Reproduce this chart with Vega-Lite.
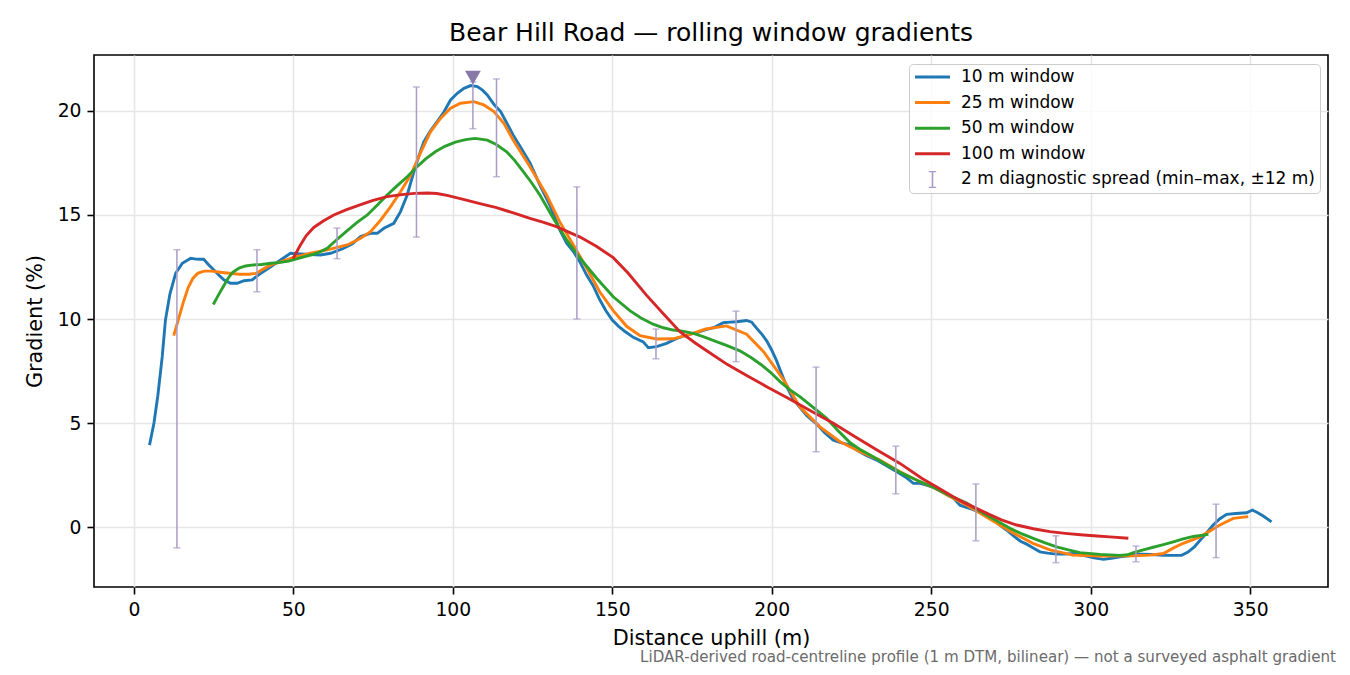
{
"$schema": "https://vega.github.io/schema/vega-lite/v6.json",
"width": 1234,
"height": 532,
"autosize": {"type": "none"},
"padding": {"left": 94, "top": 55, "right": 22, "bottom": 88},
"background": "white",
"config": {
  "font": "DejaVu Sans",
  "view": {"stroke": "#000000", "strokeWidth": 1.6},
  "axis": {
    "domain": false,
    "grid": true, "gridColor": "#e6e6e6", "gridWidth": 1.6,
    "ticks": true, "tickColor": "#000000", "tickSize": 7, "tickWidth": 1.6,
    "labelFont": "DejaVu Sans", "labelFontSize": 18.75, "labelColor": "#000000", "labelPadding": 6,
    "titleFont": "DejaVu Sans", "titleFontSize": 20.8, "titleFontWeight": "normal", "titleColor": "#000000"
  },
  "legend": {
    "labelFont": "DejaVu Sans", "labelFontSize": 17, "labelColor": "#000000"
  }
},
"title": {"text": "Bear Hill Road — rolling window gradients", "fontSize": 25, "fontWeight": "normal", "font": "DejaVu Sans", "color": "#000000", "frame": "group", "anchor": "middle", "baseline": "alphabetic", "offset": 13, "dy": 24},
"datasets": {
  "series_pts": [
    {"series":"10 m window","d":4.9,"g":3.94},{"series":"10 m window","d":6.3,"g":5.0},{"series":"10 m window","d":7.5,"g":6.3},{"series":"10 m window","d":8.9,"g":8.2},{"series":"10 m window","d":9.9,"g":9.95},{"series":"10 m window","d":11.3,"g":11.2},{"series":"10 m window","d":13.1,"g":12.2},{"series":"10 m window","d":15.2,"g":12.68},{"series":"10 m window","d":17.8,"g":12.92},{"series":"10 m window","d":19.5,"g":12.88},{"series":"10 m window","d":20.9,"g":12.87},{"series":"10 m window","d":21.9,"g":12.87},{"series":"10 m window","d":23.5,"g":12.6},{"series":"10 m window","d":25.1,"g":12.36},{"series":"10 m window","d":26.7,"g":12.1},{"series":"10 m window","d":28.2,"g":11.88},{"series":"10 m window","d":30.3,"g":11.72},{"series":"10 m window","d":32.4,"g":11.72},{"series":"10 m window","d":34.5,"g":11.84},{"series":"10 m window","d":37.1,"g":11.88},{"series":"10 m window","d":39.7,"g":12.19},{"series":"10 m window","d":42.9,"g":12.51},{"series":"10 m window","d":46,"g":12.84},{"series":"10 m window","d":49.1,"g":13.16},{"series":"10 m window","d":52.3,"g":13.13},{"series":"10 m window","d":55.5,"g":13.1},{"series":"10 m window","d":58.5,"g":13.08},{"series":"10 m window","d":61.7,"g":13.16},{"series":"10 m window","d":65.8,"g":13.4},{"series":"10 m window","d":68.5,"g":13.62},{"series":"10 m window","d":71.1,"g":13.96},{"series":"10 m window","d":74.2,"g":14.12},{"series":"10 m window","d":76.3,"g":14.12},{"series":"10 m window","d":78.4,"g":14.36},{"series":"10 m window","d":81.5,"g":14.6},{"series":"10 m window","d":83.6,"g":15.16},{"series":"10 m window","d":85.7,"g":15.96},{"series":"10 m window","d":87.8,"g":17.08},{"series":"10 m window","d":89.5,"g":17.9},{"series":"10 m window","d":90.9,"g":18.52},{"series":"10 m window","d":93,"g":19.05},{"series":"10 m window","d":95.1,"g":19.49},{"series":"10 m window","d":97.2,"g":19.95},{"series":"10 m window","d":99.3,"g":20.53},{"series":"10 m window","d":101.4,"g":20.85},{"series":"10 m window","d":103.5,"g":21.09},{"series":"10 m window","d":105.6,"g":21.22},{"series":"10 m window","d":107.7,"g":21.17},{"series":"10 m window","d":109.3,"g":21.0},{"series":"10 m window","d":110.8,"g":20.77},{"series":"10 m window","d":113,"g":20.3},{"series":"10 m window","d":115,"g":19.97},{"series":"10 m window","d":117,"g":19.4},{"series":"10 m window","d":118.9,"g":18.85},{"series":"10 m window","d":121.5,"g":18.2},{"series":"10 m window","d":124.2,"g":17.5},{"series":"10 m window","d":127.3,"g":16.44},{"series":"10 m window","d":130.4,"g":15.48},{"series":"10 m window","d":133.5,"g":14.3},{"series":"10 m window","d":135.7,"g":13.64},{"series":"10 m window","d":138,"g":13.2},{"series":"10 m window","d":140,"g":12.7},{"series":"10 m window","d":142,"g":12.1},{"series":"10 m window","d":144,"g":11.6},{"series":"10 m window","d":146,"g":10.95},{"series":"10 m window","d":148,"g":10.4},{"series":"10 m window","d":150,"g":9.95},{"series":"10 m window","d":152,"g":9.65},{"series":"10 m window","d":154,"g":9.4},{"series":"10 m window","d":156.6,"g":9.12},{"series":"10 m window","d":159.7,"g":8.9},{"series":"10 m window","d":161.3,"g":8.62},{"series":"10 m window","d":163.9,"g":8.67},{"series":"10 m window","d":167,"g":8.83},{"series":"10 m window","d":170.2,"g":9.07},{"series":"10 m window","d":173.3,"g":9.23},{"series":"10 m window","d":176.5,"g":9.35},{"series":"10 m window","d":179.6,"g":9.5},{"series":"10 m window","d":182,"g":9.6},{"series":"10 m window","d":184.8,"g":9.82},{"series":"10 m window","d":187,"g":9.85},{"series":"10 m window","d":189,"g":9.87},{"series":"10 m window","d":192.1,"g":9.93},{"series":"10 m window","d":193.7,"g":9.85},{"series":"10 m window","d":195.3,"g":9.55},{"series":"10 m window","d":197,"g":9.25},{"series":"10 m window","d":198.4,"g":8.95},{"series":"10 m window","d":200,"g":8.5},{"series":"10 m window","d":201.5,"g":8.0},{"series":"10 m window","d":203,"g":7.4},{"series":"10 m window","d":204.7,"g":6.75},{"series":"10 m window","d":206.5,"g":6.2},{"series":"10 m window","d":208.8,"g":5.75},{"series":"10 m window","d":211,"g":5.35},{"series":"10 m window","d":214.1,"g":4.95},{"series":"10 m window","d":216.5,"g":4.55},{"series":"10 m window","d":219.3,"g":4.18},{"series":"10 m window","d":222.4,"g":4.02},{"series":"10 m window","d":224.5,"g":3.95},{"series":"10 m window","d":226.6,"g":3.7},{"series":"10 m window","d":229.5,"g":3.45},{"series":"10 m window","d":232.9,"g":3.22},{"series":"10 m window","d":236,"g":2.95},{"series":"10 m window","d":239.2,"g":2.66},{"series":"10 m window","d":242,"g":2.4},{"series":"10 m window","d":244.4,"g":2.1},{"series":"10 m window","d":246.5,"g":2.1},{"series":"10 m window","d":248.5,"g":2.02},{"series":"10 m window","d":250.5,"g":1.92},{"series":"10 m window","d":252.7,"g":1.78},{"series":"10 m window","d":255,"g":1.6},{"series":"10 m window","d":257,"g":1.4},{"series":"10 m window","d":259,"g":1.05},{"series":"10 m window","d":261,"g":0.95},{"series":"10 m window","d":263,"g":0.85},{"series":"10 m window","d":265,"g":0.72},{"series":"10 m window","d":267.4,"g":0.58},{"series":"10 m window","d":269.5,"g":0.35},{"series":"10 m window","d":271.5,"g":0.1},{"series":"10 m window","d":273.6,"g":-0.14},{"series":"10 m window","d":276,"g":-0.45},{"series":"10 m window","d":278,"g":-0.68},{"series":"10 m window","d":279.9,"g":-0.82},{"series":"10 m window","d":282,"g":-1.0},{"series":"10 m window","d":284.1,"g":-1.19},{"series":"10 m window","d":286.5,"g":-1.25},{"series":"10 m window","d":289.3,"g":-1.3},{"series":"10 m window","d":292,"g":-1.3},{"series":"10 m window","d":294.5,"g":-1.27},{"series":"10 m window","d":296.5,"g":-1.33},{"series":"10 m window","d":298.7,"g":-1.39},{"series":"10 m window","d":301,"g":-1.48},{"series":"10 m window","d":304,"g":-1.55},{"series":"10 m window","d":306.5,"g":-1.5},{"series":"10 m window","d":309.2,"g":-1.43},{"series":"10 m window","d":312,"g":-1.38},{"series":"10 m window","d":314,"g":-1.3},{"series":"10 m window","d":316.5,"g":-1.3},{"series":"10 m window","d":319,"g":-1.32},{"series":"10 m window","d":322.8,"g":-1.36},{"series":"10 m window","d":325.5,"g":-1.36},{"series":"10 m window","d":328.5,"g":-1.36},{"series":"10 m window","d":330.5,"g":-1.2},{"series":"10 m window","d":332.5,"g":-0.95},{"series":"10 m window","d":334.3,"g":-0.63},{"series":"10 m window","d":336.5,"g":-0.25},{"series":"10 m window","d":338.4,"g":0.1},{"series":"10 m window","d":340.5,"g":0.4},{"series":"10 m window","d":342.6,"g":0.61},{"series":"10 m window","d":345.5,"g":0.65},{"series":"10 m window","d":348.9,"g":0.69},{"series":"10 m window","d":350.7,"g":0.82},{"series":"10 m window","d":352.5,"g":0.68},{"series":"10 m window","d":354.1,"g":0.53},{"series":"10 m window","d":356.7,"g":0.25},
    {"series":"25 m window","d":12.5,"g":9.2},{"series":"25 m window","d":14,"g":10.0},{"series":"25 m window","d":15.5,"g":10.8},{"series":"25 m window","d":17,"g":11.5},{"series":"25 m window","d":18.5,"g":11.95},{"series":"25 m window","d":20,"g":12.2},{"series":"25 m window","d":22,"g":12.3},{"series":"25 m window","d":24.5,"g":12.3},{"series":"25 m window","d":27,"g":12.25},{"series":"25 m window","d":30,"g":12.2},{"series":"25 m window","d":33,"g":12.15},{"series":"25 m window","d":36,"g":12.15},{"series":"25 m window","d":38.5,"g":12.2},{"series":"25 m window","d":40.5,"g":12.4},{"series":"25 m window","d":43,"g":12.6},{"series":"25 m window","d":46,"g":12.75},{"series":"25 m window","d":49.9,"g":12.95},{"series":"25 m window","d":55.4,"g":13.16},{"series":"25 m window","d":60.6,"g":13.32},{"series":"25 m window","d":66.9,"g":13.56},{"series":"25 m window","d":71.1,"g":13.88},{"series":"25 m window","d":74.2,"g":14.2},{"series":"25 m window","d":77.4,"g":14.76},{"series":"25 m window","d":80.5,"g":15.4},{"series":"25 m window","d":83.6,"g":16.12},{"series":"25 m window","d":86.8,"g":16.92},{"series":"25 m window","d":89.9,"g":18.0},{"series":"25 m window","d":93,"g":19.0},{"series":"25 m window","d":96.2,"g":19.65},{"series":"25 m window","d":99.3,"g":20.13},{"series":"25 m window","d":102.4,"g":20.37},{"series":"25 m window","d":106.6,"g":20.45},{"series":"25 m window","d":109.7,"g":20.29},{"series":"25 m window","d":112.9,"g":19.97},{"series":"25 m window","d":116,"g":19.41},{"series":"25 m window","d":119.2,"g":18.53},{"series":"25 m window","d":124.2,"g":17.32},{"series":"25 m window","d":129.4,"g":15.96},{"series":"25 m window","d":133.5,"g":14.68},{"series":"25 m window","d":137.8,"g":13.56},{"series":"25 m window","d":142,"g":12.44},{"series":"25 m window","d":146.1,"g":11.3},{"series":"25 m window","d":150.3,"g":10.4},{"series":"25 m window","d":154.5,"g":9.65},{"series":"25 m window","d":158.7,"g":9.2},{"series":"25 m window","d":163.9,"g":9.04},{"series":"25 m window","d":169.1,"g":9.05},{"series":"25 m window","d":174.3,"g":9.26},{"series":"25 m window","d":179.3,"g":9.52},{"series":"25 m window","d":185.8,"g":9.67},{"series":"25 m window","d":192.1,"g":9.27},{"series":"25 m window","d":197.6,"g":8.4},{"series":"25 m window","d":203.6,"g":7.1},{"series":"25 m window","d":208.8,"g":5.78},{"series":"25 m window","d":215.1,"g":4.82},{"series":"25 m window","d":221.4,"g":4.1},{"series":"25 m window","d":227.7,"g":3.62},{"series":"25 m window","d":233.9,"g":3.22},{"series":"25 m window","d":240.2,"g":2.66},{"series":"25 m window","d":246.5,"g":2.18},{"series":"25 m window","d":250.6,"g":1.91},{"series":"25 m window","d":255.5,"g":1.5},{"series":"25 m window","d":261.1,"g":1.06},{"series":"25 m window","d":266,"g":0.6},{"series":"25 m window","d":271.5,"g":0.1},{"series":"25 m window","d":276.5,"g":-0.35},{"series":"25 m window","d":281.9,"g":-0.78},{"series":"25 m window","d":287.2,"g":-1.1},{"series":"25 m window","d":294.5,"g":-1.35},{"series":"25 m window","d":302.9,"g":-1.39},{"series":"25 m window","d":313.4,"g":-1.38},{"series":"25 m window","d":318.5,"g":-1.35},{"series":"25 m window","d":322.8,"g":-1.27},{"series":"25 m window","d":326,"g":-1.0},{"series":"25 m window","d":329,"g":-0.78},{"series":"25 m window","d":334.3,"g":-0.47},{"series":"25 m window","d":340.5,"g":0.1},{"series":"25 m window","d":344.7,"g":0.42},{"series":"25 m window","d":349.4,"g":0.5},
    {"series":"50 m window","d":24.9,"g":10.7},{"series":"50 m window","d":26.5,"g":11.15},{"series":"50 m window","d":28,"g":11.55},{"series":"50 m window","d":29.5,"g":11.95},{"series":"50 m window","d":31,"g":12.25},{"series":"50 m window","d":33,"g":12.45},{"series":"50 m window","d":35,"g":12.55},{"series":"50 m window","d":37.5,"g":12.6},{"series":"50 m window","d":40,"g":12.62},{"series":"50 m window","d":43,"g":12.68},{"series":"50 m window","d":46,"g":12.72},{"series":"50 m window","d":48.5,"g":12.78},{"series":"50 m window","d":50.2,"g":12.85},{"series":"50 m window","d":53,"g":12.98},{"series":"50 m window","d":56,"g":13.1},{"series":"50 m window","d":58.3,"g":13.22},{"series":"50 m window","d":60.6,"g":13.4},{"series":"50 m window","d":63.5,"g":13.8},{"series":"50 m window","d":66.9,"g":14.25},{"series":"50 m window","d":70,"g":14.65},{"series":"50 m window","d":73.2,"g":15.0},{"series":"50 m window","d":76.5,"g":15.5},{"series":"50 m window","d":79.4,"g":15.96},{"series":"50 m window","d":82.5,"g":16.4},{"series":"50 m window","d":85.7,"g":16.84},{"series":"50 m window","d":88.8,"g":17.32},{"series":"50 m window","d":91.5,"g":17.7},{"series":"50 m window","d":94.5,"g":18.04},{"series":"50 m window","d":97.5,"g":18.3},{"series":"50 m window","d":100.8,"g":18.5},{"series":"50 m window","d":104,"g":18.62},{"series":"50 m window","d":107,"g":18.68},{"series":"50 m window","d":110.8,"g":18.6},{"series":"50 m window","d":113.5,"g":18.4},{"series":"50 m window","d":116.9,"g":18.04},{"series":"50 m window","d":119.5,"g":17.6},{"series":"50 m window","d":122.1,"g":17.08},{"series":"50 m window","d":124.7,"g":16.55},{"series":"50 m window","d":127.3,"g":15.96},{"series":"50 m window","d":131.5,"g":14.84},{"series":"50 m window","d":135.7,"g":13.8},{"series":"50 m window","d":139.9,"g":12.92},{"series":"50 m window","d":145.1,"g":11.96},{"series":"50 m window","d":150.3,"g":11.07},{"series":"50 m window","d":155.5,"g":10.4},{"series":"50 m window","d":159,"g":10.05},{"series":"50 m window","d":162.8,"g":9.75},{"series":"50 m window","d":166,"g":9.58},{"series":"50 m window","d":169.1,"g":9.47},{"series":"50 m window","d":172,"g":9.42},{"series":"50 m window","d":175.4,"g":9.31},{"series":"50 m window","d":178.5,"g":9.15},{"series":"50 m window","d":181.6,"g":8.97},{"series":"50 m window","d":186,"g":8.72},{"series":"50 m window","d":190,"g":8.47},{"series":"50 m window","d":193.5,"g":8.15},{"series":"50 m window","d":196.8,"g":7.79},{"series":"50 m window","d":199.5,"g":7.45},{"series":"50 m window","d":202.6,"g":6.99},{"series":"50 m window","d":205.5,"g":6.62},{"series":"50 m window","d":208.8,"g":6.27},{"series":"50 m window","d":213,"g":5.75},{"series":"50 m window","d":217.2,"g":5.23},{"series":"50 m window","d":221,"g":4.6},{"series":"50 m window","d":224.6,"g":4.05},{"series":"50 m window","d":228,"g":3.7},{"series":"50 m window","d":231.8,"g":3.38},{"series":"50 m window","d":236,"g":3.0},{"series":"50 m window","d":240.2,"g":2.63},{"series":"50 m window","d":245.5,"g":2.25},{"series":"50 m window","d":250.6,"g":1.92},{"series":"50 m window","d":255.9,"g":1.5},{"series":"50 m window","d":261.1,"g":1.15},{"series":"50 m window","d":267,"g":0.6},{"series":"50 m window","d":270.5,"g":0.3},{"series":"50 m window","d":274.7,"g":-0.06},{"series":"50 m window","d":278.5,"g":-0.33},{"series":"50 m window","d":282,"g":-0.54},{"series":"50 m window","d":285.5,"g":-0.75},{"series":"50 m window","d":289.3,"g":-0.95},{"series":"50 m window","d":293,"g":-1.1},{"series":"50 m window","d":296.6,"g":-1.23},{"series":"50 m window","d":302.9,"g":-1.31},{"series":"50 m window","d":309.2,"g":-1.36},{"series":"50 m window","d":311.5,"g":-1.33},{"series":"50 m window","d":313.4,"g":-1.23},{"series":"50 m window","d":316.5,"g":-1.1},{"series":"50 m window","d":319.6,"g":-0.97},{"series":"50 m window","d":322.8,"g":-0.84},{"series":"50 m window","d":325.9,"g":-0.71},{"series":"50 m window","d":329,"g":-0.57},{"series":"50 m window","d":332.2,"g":-0.45},{"series":"50 m window","d":336.9,"g":-0.35},
    {"series":"100 m window","d":49.9,"g":12.9},{"series":"100 m window","d":52,"g":13.5},{"series":"100 m window","d":54,"g":14.0},{"series":"100 m window","d":56.4,"g":14.4},{"series":"100 m window","d":59.5,"g":14.72},{"series":"100 m window","d":62.7,"g":15.0},{"series":"100 m window","d":66.5,"g":15.25},{"series":"100 m window","d":71.1,"g":15.5},{"series":"100 m window","d":75,"g":15.7},{"series":"100 m window","d":79.4,"g":15.88},{"series":"100 m window","d":84,"g":15.98},{"series":"100 m window","d":88,"g":16.04},{"series":"100 m window","d":92,"g":16.06},{"series":"100 m window","d":95,"g":16.03},{"series":"100 m window","d":98.2,"g":15.94},{"series":"100 m window","d":103.3,"g":15.75},{"series":"100 m window","d":108.5,"g":15.55},{"series":"100 m window","d":113.7,"g":15.35},{"series":"100 m window","d":119,"g":15.1},{"series":"100 m window","d":124.2,"g":14.84},{"series":"100 m window","d":128.5,"g":14.65},{"series":"100 m window","d":132.5,"g":14.44},{"series":"100 m window","d":136,"g":14.2},{"series":"100 m window","d":139.9,"g":13.94},{"series":"100 m window","d":145,"g":13.5},{"series":"100 m window","d":150.3,"g":12.95},{"series":"100 m window","d":155,"g":12.2},{"series":"100 m window","d":160.7,"g":11.15},{"series":"100 m window","d":166,"g":10.25},{"series":"100 m window","d":171.2,"g":9.39},{"series":"100 m window","d":176,"g":8.85},{"series":"100 m window","d":181.6,"g":8.27},{"series":"100 m window","d":186,"g":7.82},{"series":"100 m window","d":192,"g":7.3},{"series":"100 m window","d":198.4,"g":6.75},{"series":"100 m window","d":205,"g":6.2},{"series":"100 m window","d":212,"g":5.6},{"series":"100 m window","d":219.3,"g":4.99},{"series":"100 m window","d":226,"g":4.35},{"series":"100 m window","d":233,"g":3.7},{"series":"100 m window","d":240.2,"g":3.06},{"series":"100 m window","d":247,"g":2.35},{"series":"100 m window","d":252,"g":1.9},{"series":"100 m window","d":256.9,"g":1.46},{"series":"100 m window","d":260,"g":1.2},{"series":"100 m window","d":264.2,"g":0.9},{"series":"100 m window","d":268,"g":0.62},{"series":"100 m window","d":272,"g":0.35},{"series":"100 m window","d":276.8,"g":0.1},{"series":"100 m window","d":282,"g":-0.08},{"series":"100 m window","d":287.2,"g":-0.22},{"series":"100 m window","d":292,"g":-0.3},{"series":"100 m window","d":297.7,"g":-0.38},{"series":"100 m window","d":302,"g":-0.43},{"series":"100 m window","d":306,"g":-0.47},{"series":"100 m window","d":311.8,"g":-0.54}
  ],
  "spread": [
    {"d":13.5,"lo":-1.0,"hi":13.33},{"d":38.6,"lo":11.31,"hi":13.33},{"d":63.7,"lo":12.9,"hi":14.37},{"d":88.6,"lo":13.94,"hi":21.15},{"d":106.3,"lo":19.15,"hi":21.4},{"d":113.7,"lo":16.84,"hi":21.54},{"d":138.9,"lo":10.0,"hi":16.35},{"d":163.7,"lo":8.09,"hi":9.52},{"d":188.8,"lo":7.95,"hi":10.38},{"d":213.9,"lo":3.62,"hi":7.69},{"d":238.9,"lo":1.6,"hi":3.89},{"d":264,"lo":-0.66,"hi":2.07},{"d":289.1,"lo":-1.71,"hi":-0.42},{"d":314.2,"lo":-1.67,"hi":-0.91},{"d":339.3,"lo":-1.47,"hi":1.1}
  ],
  "peak": [{"d":106.3,"g":21.6}],
  "notes": [{"note":"LiDAR-derived road-centreline profile (1 m DTM, bilinear) — not a surveyed asphalt gradient","d":376.9,"g":-6.49}]
},
"layer": [
  {
    "data": {"name": "series_pts"},
    "mark": {"type": "line", "strokeWidth": 2.9},
    "encoding": {
      "x": {"field": "d", "type": "quantitative", "title": "Distance uphill (m)", "scale": {"domain": [-12.5, 374.4], "nice": false, "zero": false},
            "axis": {"values": [0,50,100,150,200,250,300,350], "titleY": 57, "titleBaseline": "alphabetic"}},
      "y": {"field": "g", "type": "quantitative", "title": "Gradient (%)", "scale": {"domain": [-2.88, 22.69], "nice": false, "zero": false},
            "axis": {"values": [0,5,10,15,20], "titleX": -53, "titleBaseline": "alphabetic"}},
      "color": {"field": "series", "type": "nominal",
        "scale": {"domain": ["10 m window","25 m window","50 m window","100 m window","2 m diagnostic spread (min–max, ±12 m)"],
                  "range": ["#1f77b4","#ff7f0e","#2ca02c","#d62728","#a99cc6"]},
        "legend": {"title": null, "orient": "top-right", "offset": 8.5, "symbolType": "stroke", "symbolSize": 1225, "symbolStrokeWidth": 3,
                   "clipHeight": 17, "symbolOffset": 10.5, "padding": 4.5, "rowPadding": 7.6, "labelOffset": 20, "strokeColor": "#cccccc", "fillColor": "rgba(255,255,255,0.8)", "cornerRadius": 4,
                   "labelLimit": 500,
                   "encode": {"symbols": {"update": {
                      "shape": {"signal": "datum.index == 4 ? 'M0,-0.46L0,0.46M-0.21,-0.46L0.21,-0.46M-0.21,0.46L0.21,0.46' : 'stroke'"},
                      "strokeWidth": {"signal": "datum.index == 4 ? 1.6 : 3"}
                   }}}}
      }
    }
  },
  {
    "data": {"name": "spread"},
    "mark": {"type": "errorbar", "color": "#a99cc6", "ticks": {"size": 7, "thickness": 1.5}, "rule": {"strokeWidth": 1.5}},
    "encoding": {
      "x": {"field": "d", "type": "quantitative", "title": "Distance uphill (m)"},
      "y": {"field": "lo", "type": "quantitative", "title": "Gradient (%)"},
      "y2": {"field": "hi"}
    }
  },
  {
    "data": {"name": "peak"},
    "mark": {"type": "point", "shape": "triangle-down", "filled": true, "color": "#8878a8", "opacity": 1, "size": 250},
    "encoding": {
      "x": {"field": "d", "type": "quantitative", "title": "Distance uphill (m)"},
      "y": {"field": "g", "type": "quantitative", "title": "Gradient (%)"}
    }
  },
  {
    "data": {"name": "notes"},
    "mark": {"type": "text", "align": "right", "baseline": "alphabetic", "fontSize": 15.1, "color": "#6b6b6b", "clip": false},
    "encoding": {
      "x": {"field": "d", "type": "quantitative", "title": "Distance uphill (m)"},
      "y": {"field": "g", "type": "quantitative", "title": "Gradient (%)"},
      "text": {"field": "note"}
    }
  }
]
}
